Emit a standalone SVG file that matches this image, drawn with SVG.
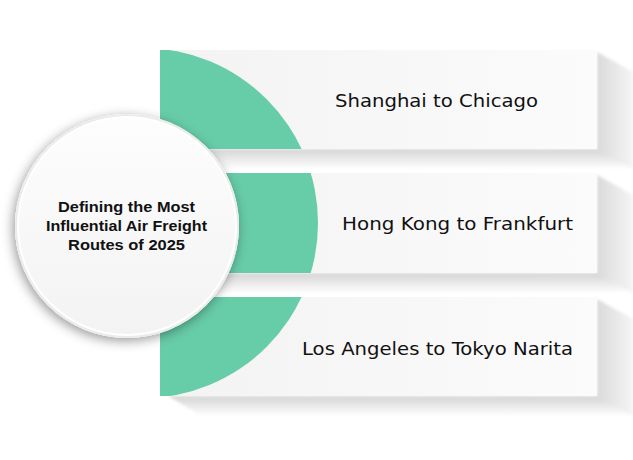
<svg xmlns="http://www.w3.org/2000/svg" width="633" height="460" viewBox="0 0 633 460">
<style>
.bar{fill:url(#barFill)}
.green{fill:#67cca8}
.lbl{font-family:"DejaVu Sans","Liberation Sans",sans-serif;font-size:17px;fill:#111;text-anchor:middle}
.title{font-family:"Liberation Sans","DejaVu Sans",sans-serif;font-size:15px;font-weight:bold;fill:#111;text-anchor:middle}
.shR{fill:url(#shadowR)}
.shB{fill:url(#shadowB)}
</style>
<defs>
<linearGradient id="barFill" x1="0" y1="0" x2="1" y2="0">
<stop offset="0" stop-color="#f3f3f3"/>
<stop offset="1" stop-color="#fbfbfb"/>
</linearGradient>
<linearGradient id="shadowR" x1="0" y1="0" x2="1" y2="0">
<stop offset="0" stop-color="#dadada"/>
<stop offset="1" stop-color="#f5f5f5"/>
</linearGradient>
<linearGradient id="shadowB" x1="0" y1="0" x2="0" y2="1">
<stop offset="0" stop-color="#d4d4d4"/>
<stop offset="1" stop-color="#ffffff"/>
</linearGradient>
<linearGradient id="circFill" x1="0" y1="0" x2="0" y2="1">
<stop offset="0" stop-color="#fdfdfd"/>
<stop offset="1" stop-color="#f3f3f3"/>
</linearGradient>
<filter id="soft" x="-10%" y="-10%" width="120%" height="140%">
<feGaussianBlur stdDeviation="1.5"/>
</filter>
<filter id="circShadow" x="-30%" y="-30%" width="160%" height="160%">
<feDropShadow dx="-2" dy="3" stdDeviation="6" flood-color="#000" flood-opacity="0.4"/>
</filter>
<clipPath id="c1"><rect x="160" y="50" width="437" height="99"/></clipPath>
<clipPath id="c2"><rect x="160" y="173" width="437" height="100"/></clipPath>
<clipPath id="c3"><rect x="160" y="297" width="437" height="99"/></clipPath>
</defs>

<g id="route1">
<g filter="url(#soft)">
<polygon class="shR" points="597,52 633,72 633,169 597,149"/>
<polygon class="shB" points="168,149 202,169 633,169 597,149"/>
</g>
<rect class="bar" x="160" y="50" width="437" height="99"/>
<circle class="green" cx="143" cy="223" r="175" clip-path="url(#c1)"/>
<text class="lbl" x="436.5" y="106.5" textLength="203" lengthAdjust="spacingAndGlyphs">Shanghai to Chicago</text>
</g>

<g id="route2">
<g filter="url(#soft)">
<polygon class="shR" points="597,175 633,195 633,293 597,273"/>
<polygon class="shB" points="168,273 202,293 633,293 597,273"/>
</g>
<rect class="bar" x="160" y="173" width="437" height="100"/>
<circle class="green" cx="143" cy="223" r="175" clip-path="url(#c2)"/>
<text class="lbl" x="457.5" y="229.5" textLength="231" lengthAdjust="spacingAndGlyphs">Hong Kong to Frankfurt</text>
</g>

<g id="route3">
<g filter="url(#soft)">
<polygon class="shR" points="597,299 633,319 633,416 597,396"/>
<polygon class="shB" points="168,396 202,416 633,416 597,396"/>
</g>
<rect class="bar" x="160" y="297" width="437" height="99"/>
<circle class="green" cx="143" cy="223" r="175" clip-path="url(#c3)"/>
<text class="lbl" x="437.5" y="354.5" textLength="271" lengthAdjust="spacingAndGlyphs">Los Angeles to Tokyo Narita</text>
</g>

<g id="title">
<circle cx="127" cy="226" r="112" fill="#ffffff" filter="url(#circShadow)"/>
<circle cx="127" cy="226" r="111" fill="#ffffff" stroke="#ebebeb" stroke-width="2"/>
<circle cx="127" cy="226" r="108" fill="url(#circFill)"/>
<text class="title" x="126.5" y="211.5" textLength="137" lengthAdjust="spacingAndGlyphs">Defining the Most</text>
<text class="title" x="126.5" y="230.5" textLength="161" lengthAdjust="spacingAndGlyphs">Influential Air Freight</text>
<text class="title" x="126.5" y="249.5" textLength="117" lengthAdjust="spacingAndGlyphs">Routes of 2025</text>
</g>
</svg>
